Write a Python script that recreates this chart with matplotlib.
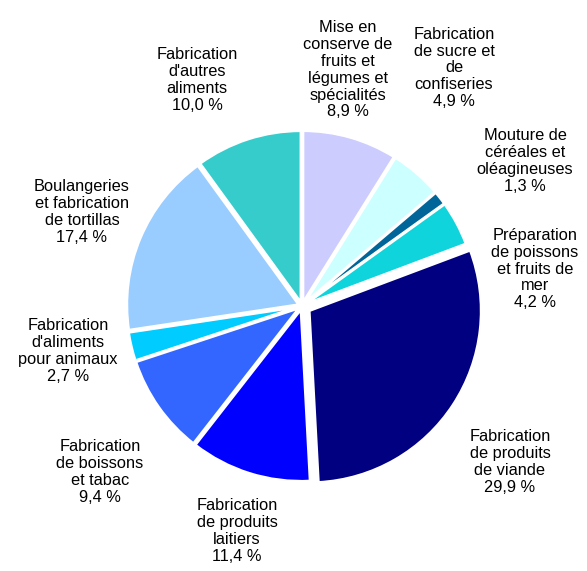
import matplotlib
matplotlib.use("Agg")
import matplotlib.pyplot as plt

plt.rcParams["font.family"] = ["Liberation Sans", "DejaVu Sans"]

labels = ["Mise en\nconserve de\nfruits et\nlégumes et\nspécialités\n8,9 %",
          "Fabrication\nde sucre et\nde\nconfiseries\n4,9 %",
          "Mouture de\ncéréales et\noléagineuses\n1,3 %",
          "Préparation\nde poissons\net fruits de\nmer\n4,2 %",
          "Fabrication\nde produits\nde viande\n29,9 %",
          "Fabrication\nde produits\nlaitiers\n11,4 %",
          "Fabrication\nde boissons\net tabac\n9,4 %",
          "Fabrication\nd'aliments\npour animaux\n2,7 %",
          "Boulangeries\net fabrication\nde tortillas\n17,4 %",
          "Fabrication\nd'autres\naliments\n10,0 %"]
values = [8.9, 4.9, 1.3, 4.2, 29.9, 11.4, 9.4, 2.7, 17.4, 10.0]
colors = ["#CCCCFF", "#CCFFFF", "#006699", "#0FD4DC", "#000080",
          "#0000FF", "#3366FF", "#00CCFF", "#99CCFF", "#36CCCC"]
explode = [0.02, 0.02, 0.02, 0.02, 0.05, 0.02, 0.02, 0.02, 0.02, 0.02]

# label centres in pixels (x, y from top)
label_pos = [(348, 70), (454, 68), (525, 161), (535, 269), (510, 462),
             (237, 531), (100, 472), (68, 351), (82, 212), (197, 80)]

W, H = 587, 571
fig = plt.figure(figsize=(W / 100, H / 100), dpi=100)
cx, cy, r = 302, 306, 172
ax = fig.add_axes([(cx - r) / W, (H - cy - r) / H, 2 * r / W, 2 * r / H])
ax.pie(values, colors=colors, startangle=90, counterclock=False,
       explode=explode, radius=1,
       wedgeprops=dict(edgecolor="white", linewidth=2))
ax.set_xlim(-1.0, 1.0)
ax.set_ylim(-1.0, 1.0)
ax.set_aspect("equal")
ax.axis("off")

for txt, (x, y) in zip(labels, label_pos):
    fig.text(x / W, 1 - y / H, txt, ha="center", va="center",
             fontsize=11.8, linespacing=1.15, color="black")

fig.savefig("out.png", dpi=100)
